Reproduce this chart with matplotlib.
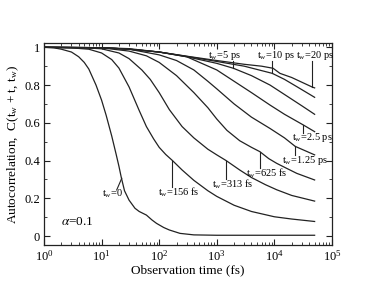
import matplotlib
matplotlib.use('Agg')
import matplotlib.pyplot as plt
from matplotlib.ticker import LogLocator, MultipleLocator, NullFormatter

plt.rcParams['font.family'] = ['Liberation Serif', 'DejaVu Serif']
plt.rcParams['mathtext.fontset'] = 'stix'

# ── Data ──────────────────────────────────────────────────────────────────────
T_TW0 = [1, 1.5, 2, 3, 4, 5, 6, 8, 10, 12, 15, 18, 20, 22, 25, 30, 38, 45, 60,
         75, 90, 120, 150, 230, 400, 1000, 10000, 50000]
C_TW0 = [1.0, 0.997, 0.99, 0.975, 0.95, 0.92, 0.885, 0.80, 0.72, 0.64, 0.53,
         0.43, 0.37, 0.31, 0.24, 0.19, 0.147, 0.13, 0.111, 0.085, 0.067, 0.045,
         0.032, 0.014, 0.006, 0.004, 0.004, 0.004]

T_156 = [1, 3, 6, 10, 15, 20, 30, 45, 60, 80, 100, 130, 170, 250, 400, 700,
         1000, 2000, 4000, 10000, 20000, 50000]
C_156 = [1.0, 0.997, 0.99, 0.97, 0.935, 0.89, 0.79, 0.665, 0.58, 0.515, 0.47,
         0.432, 0.40, 0.35, 0.295, 0.24, 0.21, 0.163, 0.13, 0.102, 0.09, 0.077]

T_313 = [1, 5, 10, 20, 30, 50, 70, 100, 150, 250, 400, 700, 1000, 1450, 2500,
         4000, 7000, 11000, 20000, 50000]
C_313 = [1.0, 0.998, 0.992, 0.97, 0.94, 0.88, 0.83, 0.76, 0.67, 0.58, 0.52,
         0.46, 0.43, 0.40, 0.35, 0.31, 0.272, 0.245, 0.215, 0.185]

T_625 = [1, 10, 30, 60, 100, 200, 400, 700, 1000, 1500, 2500, 4000, 5600, 8000,
         11000, 16000, 24500, 50000]
C_625 = [1.0, 0.997, 0.98, 0.955, 0.92, 0.85, 0.76, 0.68, 0.62, 0.56, 0.505,
         0.47, 0.447, 0.41, 0.385, 0.36, 0.332, 0.297]

T_1250 = [1, 10, 30, 100, 200, 400, 700, 1000, 2000, 4000, 8400, 15000, 23000,
          50000]
C_1250 = [1.0, 0.998, 0.99, 0.96, 0.93, 0.88, 0.82, 0.78, 0.70, 0.63, 0.57,
          0.52, 0.475, 0.43]

T_2500 = [1, 10, 30, 100, 300, 1000, 2000, 4000, 8400, 15000, 32000, 50000]
C_2500 = [1.0, 0.998, 0.993, 0.975, 0.95, 0.88, 0.82, 0.76, 0.694, 0.645,
          0.588, 0.553]

T_5000 = [1, 10, 30, 100, 300, 1000, 1940, 4000, 8400, 15000, 30000, 50000]
C_5000 = [1.0, 0.998, 0.99, 0.975, 0.95, 0.915, 0.889, 0.85, 0.80, 0.75, 0.69,
          0.645]

T_10000 = [1, 10, 30, 100, 300, 1000, 3000, 9200, 15000, 25000, 50000]
C_10000 = [1.0, 0.998, 0.99, 0.975, 0.952, 0.925, 0.90, 0.862, 0.83, 0.79,
           0.735]

T_20000 = [1, 10, 30, 100, 300, 1000, 3000, 6000, 9500, 12500, 20000, 30000,
           45000, 50000]
C_20000 = [1.0, 0.998, 0.99, 0.975, 0.953, 0.93, 0.91, 0.90, 0.889, 0.862,
           0.84, 0.815, 0.79, 0.785]

CURVES = [(T_TW0, C_TW0), (T_156, C_156), (T_313, C_313), (T_625, C_625),
          (T_1250, C_1250), (T_2500, C_2500), (T_5000, C_5000),
          (T_10000, C_10000), (T_20000, C_20000)]

# label text, text anchor (t, C), leader line (t0, C0) -> (t1, C1)
LABELS = [
    (r'$\mathregular{t_w}$=5 ps',    (700, 0.955),   (1940, 0.925), (1940, 0.889)),
    (r'$\mathregular{t_w}$=10 ps',   (5000, 0.955),  (9200, 0.925), (9200, 0.862)),
    (r'$\mathregular{t_w}$=20 ps',   (24000, 0.955), (45000, 0.925), (45000, 0.79)),
    (r'$\mathregular{t_w}$=2.5 ps',  (20000, 0.52),  (32000, 0.545), (32000, 0.588)),
    (r'$\mathregular{t_w}$=1.25 ps', (13500, 0.40),  (23000, 0.428), (23000, 0.475)),
    (r'$\mathregular{t_w}$=625 fs',  (3200, 0.33),   (5600, 0.36), (5600, 0.447)),
    (r'$\mathregular{t_w}$=313 fs',  (830, 0.272),   (1450, 0.30), (1450, 0.40)),
    (r'$\mathregular{t_w}$=156 fs',  (97, 0.23),     (167, 0.26), (167, 0.40)),
    (r'$\mathregular{t_w}$=0',       (10, 0.225),    (18.3, 0.244), (22.4, 0.306)),
]

fig = plt.figure(figsize=(3.74, 2.89), dpi=100)
ax = fig.add_axes([0.1176, 0.152, 0.770, 0.698])

for t, c in CURVES:
    ax.plot(t, c, color='#222222', lw=0.9)

for text, (tx, ty), (x0, y0), (x1, y1) in LABELS:
    ax.plot([x0, x1], [y0, y1], color='#222222', lw=0.8)
    ax.text(tx, ty, text, fontsize=7.5, va='center', ha='left')

ax.text(2.0, 0.076, r'$\alpha$=0.1', fontsize=9.5, va='center', ha='left')

ax.set_xscale('log')
ax.set_xlim(1, 1e5)
ax.set_ylim(-0.048, 1.021)
ax.xaxis.set_major_locator(LogLocator(base=10, numticks=10))
ax.xaxis.set_minor_locator(LogLocator(base=10, subs=range(2, 10), numticks=10))
ax.xaxis.set_minor_formatter(NullFormatter())
ax.yaxis.set_major_locator(MultipleLocator(0.2))
ax.yaxis.set_minor_locator(MultipleLocator(0.1))
ax.set_yticks([0, 0.2, 0.4, 0.6, 0.8, 1.0])
ax.set_yticklabels(['0', '0.2', '0.4', '0.6', '0.8', '1'])

ax.tick_params(which='both', direction='in', top=True, right=True,
               labelsize=9, color='#222222', pad=3)
ax.tick_params(which='major', length=4, width=0.8)
ax.tick_params(which='minor', length=2, width=0.6)
for s in ax.spines.values():
    s.set_linewidth(0.9)
    s.set_color('#222222')

ax.set_xlabel('Observation time (fs)', fontsize=9.5, labelpad=0)
ax.set_ylabel(r'Autocorrelation,  C($\mathregular{t_w}$ + t, $\mathregular{t_w}$)',
              fontsize=9.5, labelpad=2)

fig.savefig('out.png', dpi=100)
